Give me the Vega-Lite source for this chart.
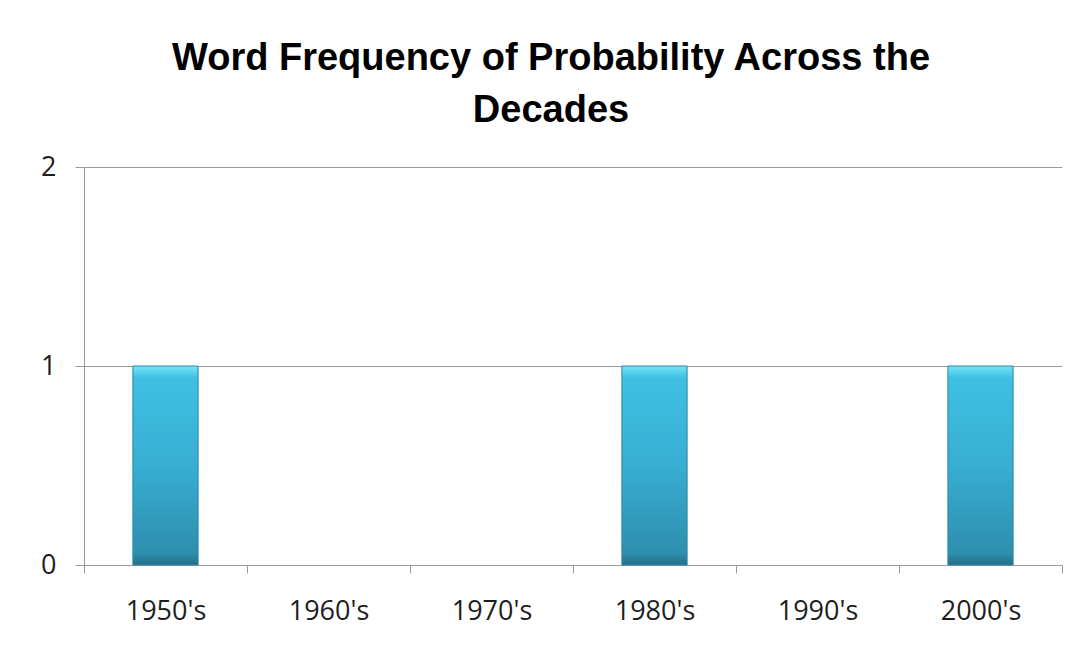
{
  "$schema": "https://vega.github.io/schema/vega-lite/v6.json",
  "autosize": {"type": "none"},
  "width": 978,
  "height": 398,
  "padding": {"left": 84, "top": 167, "right": 22, "bottom": 90},
  "background": "white",
  "config": {"view": {"stroke": null}},
  "title": {
    "text": ["Word Frequency of Probability Across the", "Decades"],
    "font": "Liberation Sans",
    "fontWeight": "bold",
    "fontSize": 38,
    "lineHeight": 52,
    "color": "black",
    "anchor": "middle",
    "dx": -22,
    "offset": 23
  },
  "data": {
    "values": [
      {"decade": "1950's", "frequency": 1},
      {"decade": "1960's", "frequency": 0},
      {"decade": "1970's", "frequency": 0},
      {"decade": "1980's", "frequency": 1},
      {"decade": "1990's", "frequency": 0},
      {"decade": "2000's", "frequency": 1}
    ]
  },
  "mark": {
    "type": "bar",
    "width": {"band": 0.4},
    "color": {
      "gradient": "linear",
      "x1": 0, "x2": 0, "y1": 0, "y2": 1,
      "stops": [
        {"offset": 0, "color": "#72e6f7"},
        {"offset": 0.06, "color": "#3fc0e2"},
        {"offset": 0.5, "color": "#37aed2"},
        {"offset": 0.94, "color": "#2e8fae"},
        {"offset": 1, "color": "#246f87"}
      ]
    },
    "stroke": "#2b86a3",
    "strokeWidth": 1
  },
  "encoding": {
    "opacity": {
      "condition": {"test": "datum.frequency > 0", "value": 1},
      "value": 0
    },
    "x": {
      "field": "decade",
      "type": "nominal",
      "sort": null,
      "scale": {"paddingInner": 0, "paddingOuter": 0},
      "axis": {
        "title": null,
        "labelAngle": 0,
        "tickBand": "extent",
        "domainColor": "#9a9a9a",
        "tickColor": "#9a9a9a",
        "tickSize": 8,
        "labelFont": "Open Sans",
        "labelFontSize": 27,
        "labelColor": "#1e1e1e",
        "labelPadding": 25,
        "grid": false
      }
    },
    "y": {
      "field": "frequency",
      "type": "quantitative",
      "scale": {"domain": [0, 2], "nice": false},
      "axis": {
        "title": null,
        "tickCount": 2,
        "labelOverlap": false,
        "domainColor": "#9a9a9a",
        "tickColor": "#9a9a9a",
        "tickSize": 9,
        "gridColor": "#9a9a9a",
        "labelFont": "Open Sans",
        "labelFontSize": 27,
        "labelColor": "#1e1e1e",
        "labelPadding": 19
      }
    }
  }
}
